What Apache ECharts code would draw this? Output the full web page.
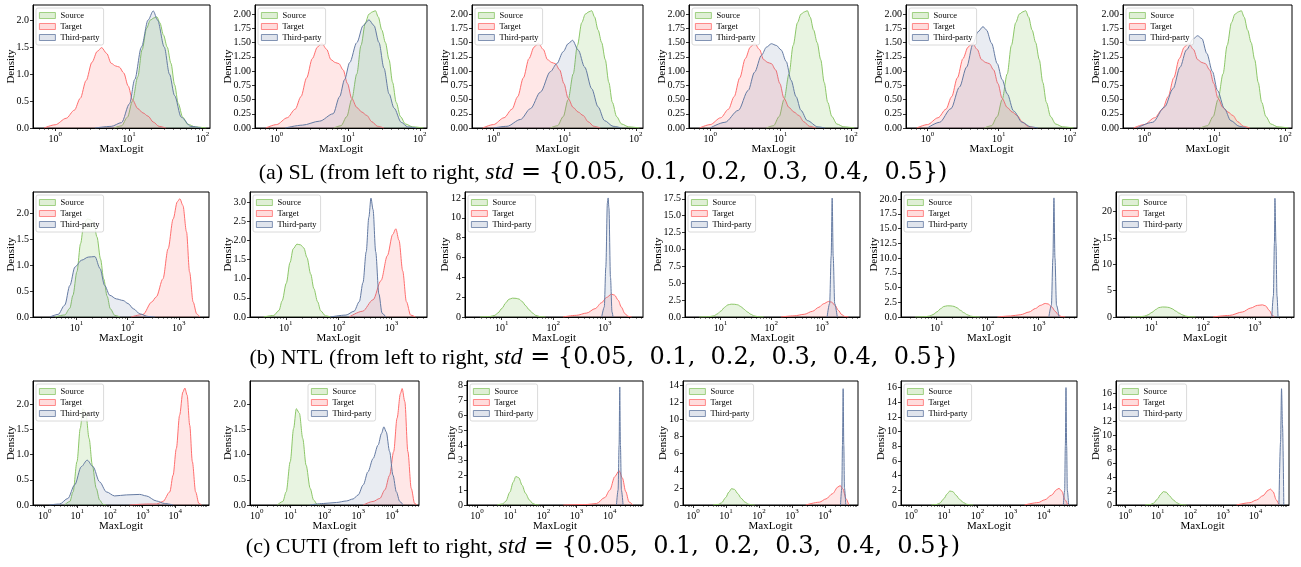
<!DOCTYPE html>
<html><head><meta charset="utf-8">
<script src="https://cdn.jsdelivr.net/npm/echarts@6/dist/echarts.min.js"></script>
<style>html,body{margin:0;padding:0;background:#fff}#c{width:1301px;height:567px}</style>
</head><body><div id="c"></div>
<script>
// ---------------- DATA (x = MaxLogit, y = density) ----------------
const SERIES_NAMES = ['Source', 'Target', 'Third-party'];
const STD_VALUES = '{0.05,  0.1,  0.2,  0.3,  0.4,  0.5}';
const CAPTION_PREFIX = ['(a) SL (from left to right, ', '(b) NTL (from left to right, ', '(c) CUTI (from left to right, '];

// tick labels
const X_TICKS_SL = [1, 10, 100];
const X_TICKS_NTL = [10, 100, 1000];
const X_TICKS_CUTI = [1, 10, 100, 1000, 10000];
const Y_TICKS_2A = [0, 0.5, 1, 1.5, 2];
const Y_TICKS_2B = [0, 0.25, 0.5, 0.75, 1, 1.25, 1.5, 1.75, 2];
const Y_TICKS_3 = [0, 0.5, 1, 1.5, 2, 2.5, 3];
const Y_TICKS_12 = [0, 2, 4, 6, 8, 10, 12];
const Y_TICKS_175 = [0, 2.5, 5, 7.5, 10, 12.5, 15, 17.5];
const Y_TICKS_20A = [0, 2.5, 5, 7.5, 10, 12.5, 15, 17.5, 20];
const Y_TICKS_20B = [0, 5, 10, 15, 20];
const Y_TICKS_8 = [0, 1, 2, 3, 4, 5, 6, 7, 8];
const Y_TICKS_14 = [0, 2, 4, 6, 8, 10, 12, 14];
const Y_TICKS_16 = [0, 2, 4, 6, 8, 10, 12, 14, 16];

// axis extents
const X_RANGE_SL = [0.5, 126];
const X_RANGE_NTL = [[1.41, 3890], [2.1, 4670], [1.95, 5500], [2.0, 5600], [2.0, 5650], [2.04, 5750]];
const X_RANGE_CUTI = [[0.44, 107000], [0.63, 63000], [0.5, 100000], [0.5, 100000], [0.5, 100000], [0.52, 107000]];
const Y_MAX_SL = [2.28, 2.16, 2.16, 2.16, 2.16, 2.16];
const Y_MAX_NTL = [2.42, 3.26, 12.6, 18.5, 21.2, 23.7];
const Y_MAX_CUTI = [2.46, 2.46, 8.3, 14.5, 16.9, 17.7];

// ---- SL ----
const SL_SOURCE = [[6.31,0],[7.94,0.04],[9.55,0.2],[11.2,0.5],[13.2,0.95],[15.1,1.45],[17.4,1.85],[19.5,2.0],[21.9,2.04],[24.0,2.06],[26.3,1.95],[29.5,1.72],[33.1,1.5],[37.2,1.2],[41.7,0.8],[46.8,0.45],[53.7,0.2],[63.1,0.07],[79.4,0.02],[112,0]];
const SL_TARGET = [[0.708,0],[1.0,0.06],[1.41,0.18],[1.82,0.33],[2.19,0.55],[2.63,0.88],[3.16,1.22],[3.72,1.42],[4.27,1.49],[5.01,1.38],[5.75,1.2],[6.61,1.15],[7.41,1.13],[8.51,1.02],[9.77,0.78],[11.2,0.52],[13.2,0.36],[15.5,0.28],[18.2,0.22],[21.4,0.11],[25.7,0.03],[31.6,0]];
const SL_THIRD_005 = [[3.47,0],[5.75,0.03],[7.94,0.1],[10.2,0.45],[12.0,0.9],[14.8,1.5],[18.2,2.0],[21.4,2.17],[24.5,2.0],[30.2,1.5],[35.5,1.0],[41.7,0.6],[51.3,0.2],[69.2,0.03],[95.5,0]];
const SL_THIRD_01 = [[1.32,0],[2.29,0.05],[3.98,0.12],[6.17,0.25],[7.59,0.55],[8.91,0.85],[10.5,1.15],[13.2,1.5],[16.2,1.8],[19.5,1.9],[22.9,1.8],[26.9,1.5],[31.6,1.05],[37.2,0.6],[43.7,0.35],[55.0,0.1],[67.6,0.02],[89.1,0]];
const SL_THIRD_02 = [[1.0,0],[1.55,0.03],[2.40,0.15],[3.31,0.34],[4.57,0.63],[6.31,0.99],[7.76,1.13],[9.55,1.34],[11.2,1.48],[12.9,1.54],[15.5,1.37],[19.1,1.07],[24.0,0.69],[29.5,0.37],[36.3,0.13],[47.9,0.03],[63.1,0]];
const SL_THIRD_03 = [[1.0,0],[1.62,0.1],[2.51,0.31],[3.47,0.66],[4.27,0.98],[5.37,1.28],[6.31,1.42],[7.41,1.48],[8.71,1.45],[10.2,1.37],[12.0,1.17],[14.1,0.84],[16.6,0.55],[19.5,0.31],[24.0,0.13],[33.9,0.02],[42.7,0]];
const SL_THIRD_04 = [[1.0,0],[1.48,0.1],[2.14,0.34],[2.82,0.72],[3.55,1.07],[4.37,1.48],[5.13,1.69],[6.03,1.78],[6.76,1.72],[7.94,1.49],[9.55,1.13],[11.2,0.85],[13.2,0.6],[16.2,0.3],[21.4,0.1],[28.2,0.02],[35.5,0]];
const SL_THIRD_05 = [[0.79,0],[1.32,0.1],[1.95,0.37],[2.57,0.69],[3.24,1.07],[3.98,1.37],[5.01,1.57],[5.75,1.62],[6.61,1.57],[7.76,1.31],[9.33,0.99],[11.0,0.66],[13.8,0.34],[17.0,0.13],[22.4,0.03],[28.2,0]];

// ---- NTL ----
const NTL_SOURCE = [[3.80,0],[5.89,0.04],[7.41,0.17],[8.51,0.42],[10.2,0.88],[12.0,1.42],[13.8,1.78],[16.2,1.9],[19.1,1.88],[21.9,1.8],[25.1,1.55],[29.5,1.12],[33.9,0.74],[39.8,0.4],[45.7,0.16],[56.2,0.03],[70.8,0]];
const NTL_TARGET_005 = [[117,0],[200,0.05],[295,0.29],[363,0.39],[490,0.74],[617,1.32],[776,1.9],[933,2.23],[1047,2.29],[1202,2.16],[1413,1.65],[1622,0.87],[1905,0.29],[2239,0.06],[2570,0]];
const NTL_THIRD_005 = [[3.02,0],[4.37,0.05],[5.89,0.23],[7.41,0.61],[9.33,0.97],[12.6,1.1],[17.0,1.16],[22.9,1.17],[28.8,0.94],[35.5,0.61],[44.7,0.42],[60.3,0.35],[81.3,0.32],[102,0.26],[129,0.16],[174,0.06],[251,0.01],[339,0]];
const NTL_TARGET_01 = [[158,0],[282,0.15],[447,0.45],[631,0.95],[832,1.6],[1047,2.15],[1202,2.3],[1380,2.0],[1622,1.2],[1905,0.4],[2291,0.05],[2818,0]];
const NTL_THIRD_01 = [[69,0],[137,0.05],[195,0.15],[245,0.4],[288,0.9],[331,1.7],[371,2.6],[407,3.1],[446,2.8],[500,1.7],[575,0.6],[660,0.1],[775,0]];
const NTL_TARGET_02 = [[155,0],[282,0.17],[447,0.4],[646,0.84],[871,1.45],[1072,1.96],[1349,2.3],[1549,2.2],[1820,1.69],[2089,1.0],[2455,0.34],[2818,0.07],[3311,0]];
const NTL_THIRD_02 = [[871,0],[977,1.0],[1047,5],[1122,11.5],[1161,12.0],[1202,11],[1288,4],[1380,0.5],[1445,0]];
const NTL_TARGET_03 = [[155,0],[282,0.17],[447,0.4],[646,0.84],[871,1.45],[1072,1.96],[1349,2.3],[1549,2.2],[1820,1.69],[2089,1.0],[2455,0.34],[2818,0.07],[3311,0]];
const NTL_THIRD_03 = [[1259,0],[1413,2],[1514,9],[1585,17.6],[1660,9],[1778,2],[1995,0]];
const NTL_TARGET_04 = [[155,0],[282,0.17],[447,0.4],[646,0.84],[871,1.45],[1072,1.96],[1349,2.3],[1549,2.2],[1820,1.69],[2089,1.0],[2455,0.34],[2818,0.07],[3311,0]];
const NTL_THIRD_04 = [[1585,0],[1778,2],[1905,10],[1995,20.2],[2089,10],[2239,2],[2512,0]];
const NTL_TARGET_05 = [[155,0],[324,0.3],[575,0.95],[832,1.7],[1122,2.2],[1413,2.3],[1622,2.1],[1905,1.27],[2188,0.3],[2399,0]];
const NTL_THIRD_05 = [[2138,0],[2291,4],[2399,14],[2455,22.5],[2570,14],[2692,4],[2818,0]];

// ---- CUTI ----
const CUTI_SOURCE = [[4.07,0],[5.89,0.07],[7.41,0.26],[9.77,0.86],[12.3,1.52],[14.8,1.91],[18.2,1.82],[22.9,1.32],[28.8,0.79],[38.0,0.33],[47.9,0.1],[61.7,0.01],[75,0]];
const CUTI_TARGET_005 = [[398,0],[1585,0.02],[2630,0.02],[4169,0.07],[6761,0.26],[8511,0.59],[10715,1.12],[13490,1.78],[16982,2.24],[19498,2.32],[22909,2.18],[27542,1.58],[33113,0.86],[41687,0.26],[52481,0.03],[63096,0]];
const CUTI_THIRD_005 = [[1.41,0],[2.88,0.02],[5.13,0.13],[8.32,0.4],[13.2,0.76],[20.0,0.89],[30.2,0.76],[47.9,0.46],[77.6,0.26],[138,0.18],[316,0.2],[813,0.21],[1288,0.18],[2630,0.08],[4677,0.03],[8511,0]];
const CUTI_TARGET_01 = [[1413,0],[2754,0.07],[4365,0.13],[6166,0.3],[8511,0.59],[11220,1.06],[14125,1.72],[17783,2.21],[19953,2.31],[23988,2.05],[29512,1.06],[37154,0.33],[46774,0.03],[54954,0]];
const CUTI_THIRD_01 = [[37.2,0],[93.3,0.03],[229,0.05],[447,0.08],[708,0.12],[1000,0.2],[1413,0.4],[1950,0.66],[2754,0.92],[3890,1.19],[4898,1.42],[5754,1.55],[6761,1.45],[8511,1.06],[10715,0.59],[13490,0.26],[16982,0.07],[21380,0]];
const CUTI_TARGET_02 = [[398,0],[1995,0.03],[3981,0.1],[7079,0.5],[10000,1.0],[14125,1.9],[19055,2.3],[23988,1.8],[30200,0.9],[38019,0.2],[50119,0]];
const CUTI_THIRD_02 = [[15849,0],[17783,1],[19055,4],[19953,7.9],[20893,4],[22387,1],[25119,0]];
const CUTI_TARGET_03 = [[2630,0],[6761,0.33],[10715,0.71],[16982,1.33],[24547,2.1],[28840,2.27],[34674,1.9],[43652,0.71],[52481,0]];
const CUTI_THIRD_03 = [[29512,0],[32359,2],[33884,7],[35481,13.6],[37154,7],[38905,2],[42658,0]];
const CUTI_TARGET_04 = [[2630,0],[6761,0.33],[10715,0.71],[16982,1.33],[24547,2.1],[28840,2.27],[34674,1.9],[43652,0.71],[52481,0]];
const CUTI_THIRD_04 = [[38770,0],[42510,2],[44510,8],[46610,16],[48810,8],[51110,2],[56040,0]];
const CUTI_TARGET_05 = [[2630,0],[6761,0.33],[10715,0.71],[16982,1.33],[24547,2.1],[28840,2.27],[34674,1.9],[43652,0.71],[52481,0]];
const CUTI_THIRD_05 = [[52481,0],[58884,9],[63096,16.6],[67608,11.4],[74131,0]];

// ---------------- LAYOUT / STYLE ----------------
const FONT = "'Liberation Serif','Times New Roman',serif";
const MATH_FONT = "'DejaVu Serif','Liberation Serif',serif";
const ROW_TOP = [5, 192, 381];
const ROW_BOTTOM = [128, 317, 505];
const COLS = [
  [[33,210],[255,427],[472,643],[689,858],[906,1077],[1123,1292]],
  [[33,209],[250,427],[465,643],[685,860],[901,1077],[1116,1294]],
  [[33,209],[250,419],[467,643],[683,858],[901,1077],[1116,1289]]
];
const CAPTION_Y = [173, 358, 547];
const COLORS = {
  'Source': {line: 'rgb(140,198,104)', fill: 'rgba(140,198,104,0.28)'},
  'Target': {line: 'rgb(255,110,110)', fill: 'rgba(255,110,110,0.24)'},
  'Third-party': {line: 'rgb(100,122,162)', fill: 'rgba(100,122,162,0.2)'}
};

const PANELS = [
  {row:0,col:0,x:X_RANGE_SL,ymax:Y_MAX_SL[0],xt:X_TICKS_SL,yt:Y_TICKS_2A,yd:1,d:[SL_SOURCE,SL_TARGET,SL_THIRD_005]},
  {row:0,col:1,x:X_RANGE_SL,ymax:Y_MAX_SL[1],xt:X_TICKS_SL,yt:Y_TICKS_2B,yd:2,d:[SL_SOURCE,SL_TARGET,SL_THIRD_01]},
  {row:0,col:2,x:X_RANGE_SL,ymax:Y_MAX_SL[2],xt:X_TICKS_SL,yt:Y_TICKS_2B,yd:2,d:[SL_SOURCE,SL_TARGET,SL_THIRD_02]},
  {row:0,col:3,x:X_RANGE_SL,ymax:Y_MAX_SL[3],xt:X_TICKS_SL,yt:Y_TICKS_2B,yd:2,d:[SL_SOURCE,SL_TARGET,SL_THIRD_03]},
  {row:0,col:4,x:X_RANGE_SL,ymax:Y_MAX_SL[4],xt:X_TICKS_SL,yt:Y_TICKS_2B,yd:2,d:[SL_SOURCE,SL_TARGET,SL_THIRD_04]},
  {row:0,col:5,x:X_RANGE_SL,ymax:Y_MAX_SL[5],xt:X_TICKS_SL,yt:Y_TICKS_2B,yd:2,d:[SL_SOURCE,SL_TARGET,SL_THIRD_05]},
  {row:1,col:0,x:X_RANGE_NTL[0],ymax:Y_MAX_NTL[0],xt:X_TICKS_NTL,yt:Y_TICKS_2A,yd:1,d:[NTL_SOURCE,NTL_TARGET_005,NTL_THIRD_005]},
  {row:1,col:1,x:X_RANGE_NTL[1],ymax:Y_MAX_NTL[1],xt:X_TICKS_NTL,yt:Y_TICKS_3,yd:1,d:[NTL_SOURCE,NTL_TARGET_01,NTL_THIRD_01]},
  {row:1,col:2,x:X_RANGE_NTL[2],ymax:Y_MAX_NTL[2],xt:X_TICKS_NTL,yt:Y_TICKS_12,yd:0,d:[NTL_SOURCE,NTL_TARGET_02,NTL_THIRD_02]},
  {row:1,col:3,x:X_RANGE_NTL[3],ymax:Y_MAX_NTL[3],xt:X_TICKS_NTL,yt:Y_TICKS_175,yd:1,d:[NTL_SOURCE,NTL_TARGET_03,NTL_THIRD_03]},
  {row:1,col:4,x:X_RANGE_NTL[4],ymax:Y_MAX_NTL[4],xt:X_TICKS_NTL,yt:Y_TICKS_20A,yd:1,d:[NTL_SOURCE,NTL_TARGET_04,NTL_THIRD_04]},
  {row:1,col:5,x:X_RANGE_NTL[5],ymax:Y_MAX_NTL[5],xt:X_TICKS_NTL,yt:Y_TICKS_20B,yd:0,d:[NTL_SOURCE,NTL_TARGET_05,NTL_THIRD_05]},
  {row:2,col:0,x:X_RANGE_CUTI[0],ymax:Y_MAX_CUTI[0],xt:X_TICKS_CUTI,yt:Y_TICKS_2A,yd:1,d:[CUTI_SOURCE,CUTI_TARGET_005,CUTI_THIRD_005]},
  {row:2,col:1,x:X_RANGE_CUTI[1],ymax:Y_MAX_CUTI[1],xt:X_TICKS_CUTI,yt:Y_TICKS_2A,yd:1,d:[CUTI_SOURCE,CUTI_TARGET_01,CUTI_THIRD_01],legendLeft:308},
  {row:2,col:2,x:X_RANGE_CUTI[2],ymax:Y_MAX_CUTI[2],xt:X_TICKS_CUTI,yt:Y_TICKS_8,yd:0,d:[CUTI_SOURCE,CUTI_TARGET_02,CUTI_THIRD_02]},
  {row:2,col:3,x:X_RANGE_CUTI[3],ymax:Y_MAX_CUTI[3],xt:X_TICKS_CUTI,yt:Y_TICKS_14,yd:0,d:[CUTI_SOURCE,CUTI_TARGET_03,CUTI_THIRD_03]},
  {row:2,col:4,x:X_RANGE_CUTI[4],ymax:Y_MAX_CUTI[4],xt:X_TICKS_CUTI,yt:Y_TICKS_16,yd:0,d:[CUTI_SOURCE,CUTI_TARGET_04,CUTI_THIRD_04]},
  {row:2,col:5,x:X_RANGE_CUTI[5],ymax:Y_MAX_CUTI[5],xt:X_TICKS_CUTI,yt:Y_TICKS_16,yd:0,d:[CUTI_SOURCE,CUTI_TARGET_05,CUTI_THIRD_05]}
];

function minorTicks(range) {
  const out = [];
  for (let k = Math.floor(Math.log10(range[0])); k <= Math.ceil(Math.log10(range[1])); k++) {
    for (let m = 2; m <= 9; m++) {
      const v = m * Math.pow(10, k);
      if (v > range[0] && v < range[1]) out.push(v);
    }
  }
  return out;
}
function labelWidth(ticks, d) {
  let w = 0;
  ticks.forEach(t => {
    const s = t.toFixed(d);
    let ww = 0;
    for (const ch of s) ww += (ch === '.' ? 2.5 : 5);
    w = Math.max(w, ww);
  });
  return w;
}

const grid = [], xAxis = [], yAxis = [], series = [], legend = [];
PANELS.forEach((p, i) => {
  const [l, r] = COLS[p.row][p.col];
  const t = ROW_TOP[p.row], b = ROW_BOTTOM[p.row];
  grid.push({left: l, top: t, width: r - l, height: b - t, show: true, borderColor: '#000', borderWidth: 1, backgroundColor: 'rgba(0,0,0,0)'});
  const tickStyle = {color: '#000', width: 0.8};
  xAxis.push({
    type: 'log', logBase: 10, gridIndex: i, position: 'bottom', min: p.x[0], max: p.x[1],
    name: 'MaxLogit', nameLocation: 'middle', nameGap: 16, nameMoveOverlap: false,
    nameTextStyle: {fontFamily: FONT, fontSize: 11, color: '#000'},
    axisLine: {show: true, onZero: false, lineStyle: {color: '#000', width: 1}},
    axisTick: {show: true, length: 3, lineStyle: tickStyle, customValues: p.xt},
    axisLabel: {
      show: true, customValues: p.xt, margin: 3, color: '#000',
      formatter: v => '{b|10}{s|' + Math.round(Math.log10(v)) + '}',
      rich: {
        b: {fontFamily: FONT, fontSize: 10, color: '#000', padding: [3, 0, 0, 0]},
        s: {fontFamily: FONT, fontSize: 7, color: '#000', verticalAlign: 'top'}
      }
    },
    splitLine: {show: false}, minorTick: {show: false}
  });
  xAxis.push({
    type: 'log', logBase: 10, gridIndex: i, position: 'bottom', min: p.x[0], max: p.x[1],
    axisLine: {show: false, onZero: false},
    axisTick: {show: true, length: 1.8, lineStyle: {color: '#000', width: 0.6}, customValues: minorTicks(p.x)},
    axisLabel: {show: false}, splitLine: {show: false}
  });
  const lw = labelWidth(p.yt, p.yd);
  yAxis.push({
    type: 'value', gridIndex: i, min: 0, max: p.ymax,
    name: 'Density', nameLocation: 'middle', nameGap: lw + 4, nameMoveOverlap: false,
    nameTextStyle: {fontFamily: FONT, fontSize: 11, color: '#000'},
    axisLine: {show: true, onZero: false, lineStyle: {color: '#000', width: 1}},
    axisTick: {show: true, length: 3, lineStyle: tickStyle, customValues: p.yt},
    axisLabel: {customValues: p.yt, formatter: v => Number(v).toFixed(p.yd), fontFamily: FONT, fontSize: 10, color: '#000', margin: 4},
    splitLine: {show: false}
  });
  p.d.forEach((arr, k) => {
    const nm = SERIES_NAMES[k];
    series.push({
      type: 'line', name: nm, xAxisIndex: 2 * i, yAxisIndex: i, data: arr,
      smooth: 0.3, smoothMonotone: 'x', symbol: 'none', silent: true,
      lineStyle: {color: COLORS[nm].line, width: 1},
      itemStyle: {color: COLORS[nm].line},
      areaStyle: {color: COLORS[nm].fill, origin: 'start'},
      z: 2 + k
    });
  });
  legend.push({
    orient: 'vertical', left: p.legendLeft != null ? p.legendLeft : l + 3, top: t + 3,
    itemWidth: 16, itemHeight: 6, itemGap: 2, padding: [3, 4, 3, 3],
    backgroundColor: 'rgba(255,255,255,0.85)', borderColor: '#d0d0d0', borderWidth: 0.8, borderRadius: 2,
    icon: 'rect', selectedMode: false,
    textStyle: {fontFamily: FONT, fontSize: 8.5, color: '#000', padding: [0, 0, 0, 0]},
    data: SERIES_NAMES.map(nm => ({name: nm, icon: 'rect', itemStyle: {color: COLORS[nm].fill, borderColor: COLORS[nm].line, borderWidth: 0.8}})),
    z: 10
  });
});

const graphic = CAPTION_PREFIX.map((pre, i) => ({
  type: 'text', x: 603, y: CAPTION_Y[i], z: 20,
  style: {
    text: '{p|' + pre + '}{i|std} = ' + STD_VALUES + ')',
    fontFamily: MATH_FONT, fontSize: 24, fill: '#000', align: 'center', verticalAlign: 'middle',
    rich: {
      p: {fontFamily: FONT, fontSize: 22, fill: '#000'},
      i: {fontFamily: FONT, fontSize: 24, fontStyle: 'italic', fill: '#000'}
    }
  }
}));

const chart = echarts.init(document.getElementById('c'), null, {renderer: 'canvas'});
chart.setOption({animation: false, backgroundColor: '#fff', grid, xAxis, yAxis, series, legend, graphic});
</script></body></html>
